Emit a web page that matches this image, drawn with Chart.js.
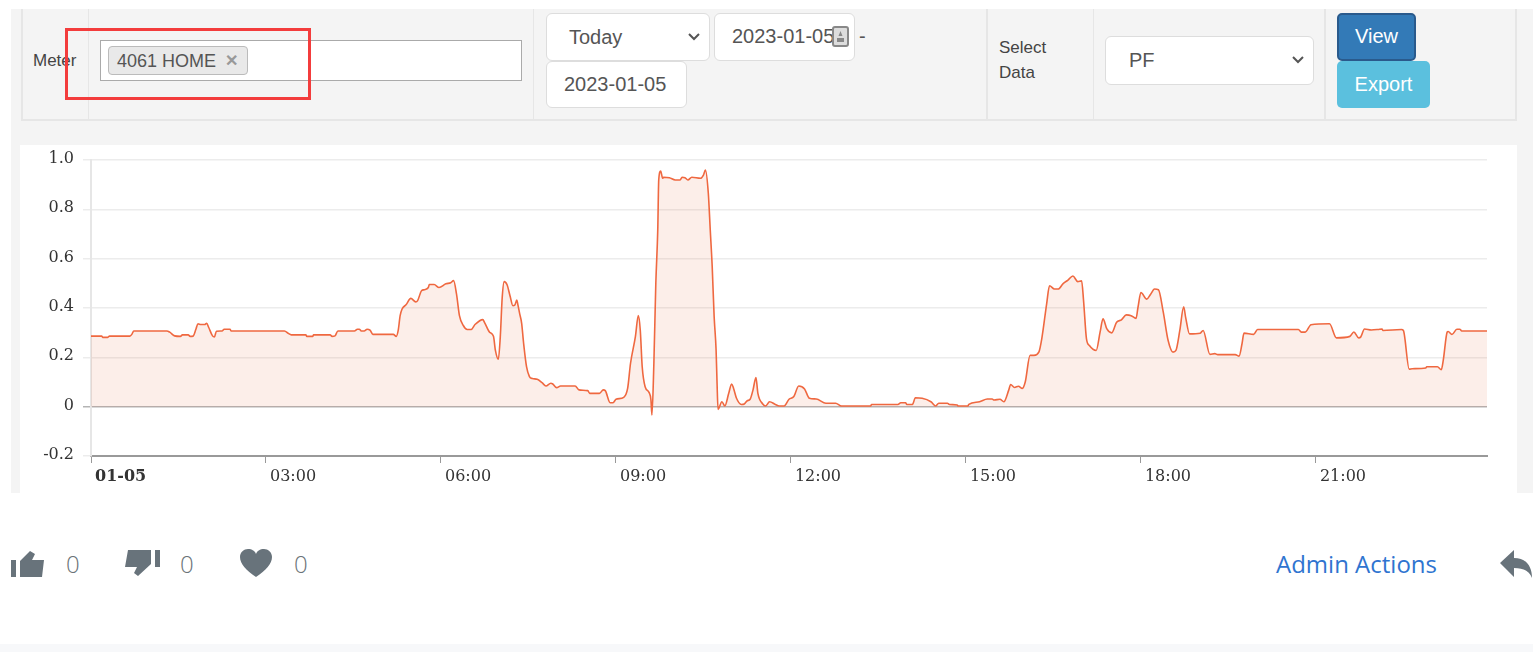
<!DOCTYPE html>
<html>
<head>
<meta charset="utf-8">
<title>PF</title>
<script src="https://cdn.jsdelivr.net/npm/chart.js@4"></script>
<style>
html, body { margin: 0; padding: 0; background: #fff; overflow: hidden; }
body { width: 1533px; height: 652px; position: relative; font-family: "Liberation Sans", Arial, sans-serif; color: #555; }
.abs { position: absolute; box-sizing: border-box; }
#panel { left: 11px; top: 9px; width: 1522px; height: 484px; background: #f4f4f4; }
.line { background: #e6e6e6; }
.field { background: #fff; border: 1px solid #ddd; border-radius: 6px; font-size: 20px; line-height: 44px; padding-left: 17px; color: #555; }
.arrow { position: absolute; right: 9px; top: 19px; }
.lbl { font-size: 17px; line-height: 25px; color: #444; }
.btn { border-radius: 5px; color: #fff; font-size: 20px; text-align: center; }
#chartBox { left: 20px; top: 145px; width: 1497px; height: 348px; background: #fff; }
#redBox { left: 65px; top: 28px; width: 246px; height: 72px; border: 3px solid #f33c3c; }
.count { font-family: "Open Sans", sans-serif; font-weight: 300; font-size: 24px; color: #6b7378; top: 547px; }
#band { left: 0; top: 644px; width: 1533px; height: 8px; background: #f7f8fa; }
</style>
</head>
<body>
<div class="abs" id="panel"></div>
<div class="abs line" style="left:21px;top:9px;width:2px;height:112px"></div>
<div class="abs line" style="left:88px;top:9px;width:1px;height:112px"></div>
<div class="abs line" style="left:533px;top:9px;width:1px;height:112px"></div>
<div class="abs line" style="left:986px;top:9px;width:2px;height:112px"></div>
<div class="abs line" style="left:1093px;top:9px;width:1px;height:112px"></div>
<div class="abs line" style="left:1324px;top:9px;width:2px;height:112px"></div>
<div class="abs line" style="left:1515px;top:9px;width:2px;height:112px"></div>
<div class="abs line" style="left:21px;top:119px;width:1496px;height:2px"></div>

<div class="abs lbl" style="left:33px;top:48px">Meter</div>
<div class="abs" style="left:100px;top:40px;width:422px;height:41px;background:#fff;border:1px solid #aaa"></div>
<div class="abs" style="left:108px;top:46px;width:140px;height:29px;background:#e9e9e9;border:1px solid #bbb;border-radius:4px;font-size:18px;line-height:28px;padding-left:8px;color:#555;white-space:nowrap">4061 HOME<span style="position:absolute;left:116px;top:0;font-size:16px;color:#999;font-weight:bold">✕</span></div>

<div class="abs field" style="left:546px;top:13px;width:164px;height:48px;padding-left:22px;line-height:47px">Today
  <svg class="arrow" width="12" height="8" viewBox="0 0 12 8"><path d="M1 1l5 5 5-5" fill="none" stroke="#555" stroke-width="2"/></svg></div>
<div class="abs field" style="left:714px;top:13px;width:141px;height:48px;line-height:45px">2023-01-05</div>
<svg class="abs" style="left:832px;top:26px" width="17" height="21" viewBox="0 0 17 21"><rect x="1" y="1" width="15" height="19" rx="2" fill="#ddd" stroke="#888" stroke-width="2"/><path d="M8.500 5l2 5h-4zM5 12h7v4H5z" fill="#888"/></svg>
<div class="abs" style="left:859px;top:25px;font-size:20px;color:#555">-</div>
<div class="abs field" style="left:546px;top:61px;width:141px;height:47px">2023-01-05</div>

<div class="abs lbl" style="left:999px;top:35px">Select<br>Data</div>
<div class="abs field" style="left:1105px;top:36px;width:209px;height:49px;padding-left:23px;line-height:46px">PF
  <svg class="arrow" width="12" height="8" viewBox="0 0 12 8"><path d="M1 1l5 5 5-5" fill="none" stroke="#555" stroke-width="2"/></svg></div>
<div class="abs btn" style="left:1337px;top:13px;width:79px;height:48px;line-height:43px;background:#337ab7;border:2px solid #2a5a8c">View</div>
<div class="abs btn" style="left:1337px;top:61px;width:93px;height:47px;line-height:47px;background:#5bc0de">Export</div>

<div class="abs" id="chartBox"><canvas id="pfChart" width="1497" height="348"></canvas></div>
<div class="abs" id="redBox"></div>

<svg class="abs" style="left:11px;top:550px" width="35" height="28" viewBox="0 0 35 28"><path d="M0 10h5v17H0zM9 11l10-10 5 3-3 6h12l-2 17H9z" fill="#68737b"/></svg>
<div class="abs count" style="left:66px">0</div>
<svg class="abs" style="left:125px;top:549px" width="35" height="28" viewBox="0 0 35 28"><path d="M30 1h5v17h-5zM26 1H3L0 18h12l-3 6 4 3 13-12z" fill="#68737b"/></svg>
<div class="abs count" style="left:180px">0</div>
<svg class="abs" style="left:240px;top:549px" width="32" height="28" viewBox="0 0 32 28"><path d="M16 28C6 21 0 15 0 8c0-5 4-8 8-8 4 0 7 2 8 5 1-3 4-5 8-5 4 0 8 3 8 8 0 7-6 13-16 20z" fill="#68737b"/></svg>
<div class="abs count" style="left:294px">0</div>
<div class="abs" style="left:1276px;top:547px;font-family:'Open Sans',sans-serif;font-size:24px;color:#2f74d0">Admin Actions</div>
<svg class="abs" style="left:1500px;top:550px" width="33" height="28" viewBox="0 0 33 28"><path d="M0 13L14 0v8c12 0 18 8 18 20-3-7-8-10-18-10v9z" fill="#68737b"/></svg>
<div class="abs" id="band"></div>

<script>
const minutes = [0,11,12,17,19,40,42,44,78,81,86,92,94,100,102,105,108,110,113,117,119,121,125,127,129,135,137,143,144,199,203,206,221,222,228,229,246,248,251,254,271,274,276,278,281,284,287,290,311,314,316,318,320,324,329,334,336,340,343,347,348,353,358,365,370,373,376,379,383,387,391,395,403,405,410,414,416,419,421,423,425,428,431,434,436,438,439,441,443,445,448,451,454,459,464,468,473,475,479,483,498,502,511,513,523,527,529,534,537,540,548,552,555,560,563,565,567,570,574,576,577,579,581,583,584,586,588,589,595,601,606,608,611,614,618,627,630,632,635,637,639,641,643,644,645,649,652,656,659,661,664,669,672,675,678,681,684,686,691,694,698,704,708,713,718,723,728,734,739,746,756,766,772,802,803,830,833,838,839,845,848,855,864,869,872,881,883,891,892,902,903,914,922,927,929,935,939,944,946,950,954,958,961,966,970,975,978,983,986,991,995,1000,1005,1010,1015,1019,1021,1024,1027,1034,1038,1041,1045,1050,1055,1060,1065,1070,1075,1077,1080,1086,1090,1094,1098,1103,1108,1113,1116,1120,1124,1126,1130,1141,1144,1151,1156,1159,1177,1181,1184,1186,1196,1200,1242,1245,1249,1255,1274,1281,1295,1299,1304,1306,1310,1317,1324,1328,1329,1348,1350,1356,1359,1373,1374,1385,1389,1391,1395,1396,1400,1405,1408,1410,1436];
const pfValues = [.286,.286,.281,.281,.286,.286,.293,.307,.307,.302,.287,.285,.291,.291,.285,.286,.315,.336,.333,.333,.338,.322,.287,.283,.306,.307,.314,.314,.307,.307,.297,.291,.291,.285,.285,.291,.291,.285,.287,.307,.307,.314,.314,.307,.307,.314,.31,.293,.293,.285,.309,.369,.396,.413,.439,.425,.43,.47,.474,.483,.495,.495,.483,.498,.502,.511,.456,.369,.329,.313,.313,.333,.353,.34,.302,.285,.228,.192,.282,.443,.507,.494,.45,.409,.412,.432,.416,.376,.338,.257,.162,.122,.114,.111,.097,.084,.095,.092,.077,.084,.084,.068,.065,.054,.054,.068,.065,.016,.016,.03,.038,.074,.176,.284,.369,.311,.162,.081,.058,.027,-.034,.176,.5,.716,.919,.955,.926,.93,.928,.919,.919,.93,.928,.919,.93,.926,.939,.959,.865,.716,.568,.365,.23,.095,-.011,.02,.003,.054,.092,.074,.034,.009,.011,.024,.03,.068,.118,.054,.011,.003,.02,.009,.003,.003,.03,.041,.084,.072,.034,.031,.014,.014,.003,.003,.009,.009,.016,.016,.009,.009,.036,.034,.02,.003,.014,.014,.009,.007,.003,.003,.009,.02,.031,.031,.027,.03,.02,.067,.09,.078,.083,.074,.1,.208,.208,.221,.275,.416,.49,.477,.477,.499,.513,.53,.507,.51,.43,.275,.248,.228,.302,.356,.315,.299,.342,.352,.372,.369,.358,.403,.463,.436,.456,.477,.474,.383,.268,.221,.228,.309,.405,.362,.295,.298,.309,.212,.215,.211,.211,.205,.255,.298,.293,.313,.313,.302,.302,.332,.336,.279,.285,.303,.279,.282,.315,.311,.313,.315,.309,.313,.309,.152,.154,.157,.162,.162,.15,.188,.302,.305,.293,.314,.314,.307,.307];
const timeTicks = [0,180,360,540,720,900,1080,1260];
const timeLabels = ["01-05","03:00","06:00","09:00","12:00","15:00","18:00","21:00"];
const pfTicks = [-0.2,0,0.2,0.4,0.6,0.8,1.0];
const pfLabels = ["-0.2","0","0.2","0.4","0.6","0.8","1.0"];

const chartFont = '"DejaVu Serif", serif';

new Chart(document.getElementById("pfChart").getContext("2d"), {
    type: 'line',
    data: {
        datasets: [{
            label: 'PF',
            data: minutes.map((m, i) => ({ x: m, y: pfValues[i] })),
            borderColor: '#ef6840',
            backgroundColor: 'rgba(225, 85, 35, 0.1)',
            borderWidth: 1.6,
            pointRadius: 0,
            cubicInterpolationMode: 'monotone',
            fill: 'origin'
        }]
    },
    options: {
        responsive: false,
        animation: false,
        layout: { padding: { top: 15, right: 30, bottom: 0, left: 0 } },
        plugins: { legend: { display: false }, tooltip: { enabled: false } },
        scales: {
            x: {
                type: 'linear',
                min: 0,
                max: 1436,
                afterBuildTicks: axis => { axis.ticks = timeTicks.map(v => ({ value: v })); },
                afterFit: axis => { axis.height = 37; },
                ticks: {
                    align: 'start',
                    labelOffset: 4,
                    maxRotation: 0,
                    autoSkip: false,
                    padding: 4,
                    color: '#333',
                    callback: (value) => timeLabels[timeTicks.indexOf(value)],
                    font: ctx => ({ family: chartFont, size: 16, weight: ctx.index === 0 ? 'bold' : 'normal' })
                },
                grid: { drawOnChartArea: false, tickLength: 7, tickColor: '#999' },
                border: { color: '#999', width: 2 }
            },
            y: {
                min: -0.2,
                max: 1,
                afterBuildTicks: axis => { axis.ticks = pfTicks.map(v => ({ value: v })); },
                // the top label must not push the plot down
                afterFit: axis => { axis.width = 71; axis.paddingTop = 0; },
                ticks: {
                    padding: 9,
                    labelOffset: -1,
                    color: '#333',
                    callback: (value) => pfLabels[pfTicks.indexOf(value)],
                    font: { family: chartFont, size: 16 }
                },
                grid: {
                    tickLength: 8,
                    lineWidth: 1.5,
                    color: ctx => ctx.tick && ctx.tick.value === 0 ? '#b4b4b4' : '#ececec'
                },
                border: { color: '#e6e6e6', width: 2 }
            }
        }
    }
});
</script>
</body>
</html>
